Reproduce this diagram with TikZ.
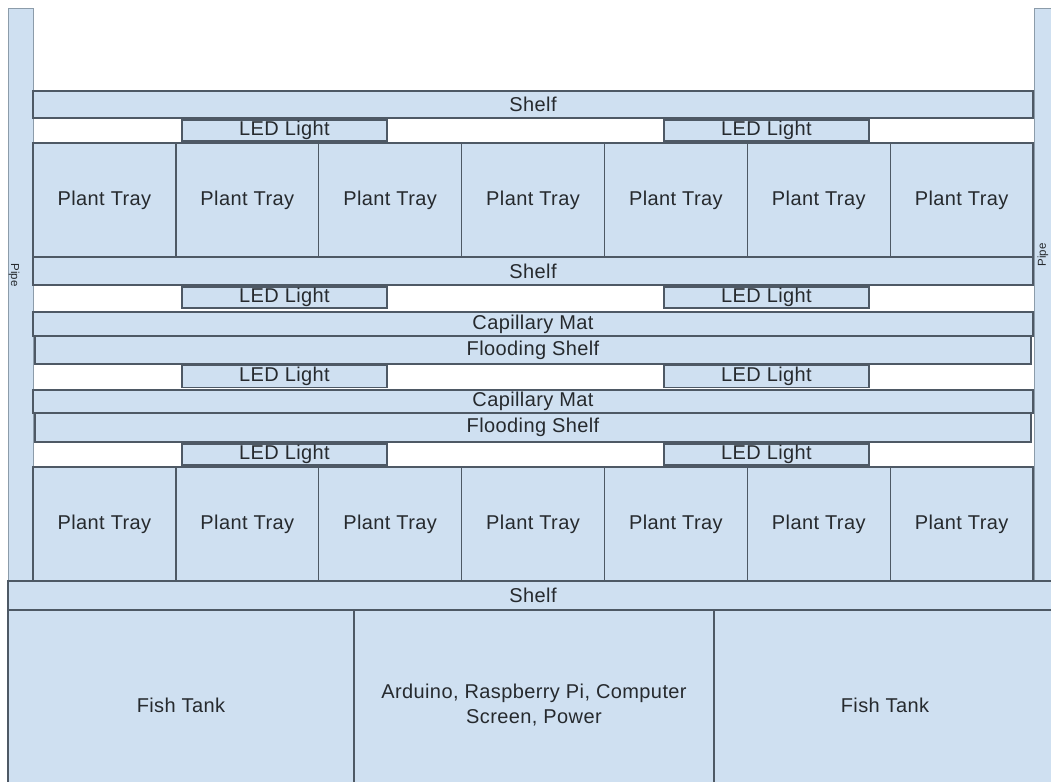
\documentclass[tikz,border=0pt]{standalone}
\usepackage{fontspec}
\setmainfont[LetterSpace=2]{Liberation Sans}
\definecolor{boxfill}{HTML}{CFE0F1}
\definecolor{boxline}{HTML}{4E5965}
\definecolor{pipeline}{HTML}{8C9CAA}
\definecolor{txt}{HTML}{262A2E}
\tikzset{
  part/.style={draw=boxline, line width=1.3pt, fill=boxfill, text=txt, inner sep=0pt,
    font=\fontsize{20}{24}\selectfont, align=center},
  pipebox/.style={draw=pipeline, line width=1pt, fill=boxfill, inner sep=0pt},
  pipelabel/.style={text=txt, font=\fontsize{11.5}{13}\selectfont, inner sep=0pt}
}
\begin{document}
\begin{tikzpicture}[x=1pt,y=-1pt]
\useasboundingbox (0,0) rectangle (1051,781);
\clip (0,0) rectangle (1051,781);
\fill[white] (0,0) rectangle (1051,781);
% pipes
\node[pipebox, minimum width=25, minimum height=572] (pipeL) at (20.5,295) {};
\node[pipebox, minimum width=26, minimum height=572] (pipeR) at (1047,295) {};
\node[pipelabel, rotate=-90] (pipeLt) at (14,275) {Pipe};
\node[pipelabel, rotate=90] (pipeRt) at (1043,255) {Pipe};
% top shelf
\node[part, minimum width=1000, minimum height=27] (shelf1) at (533,104.5) {Shelf};
\node[part, minimum width=205, minimum height=21] (led1a) at (284.5,130.5) {LED Light};
\node[part, minimum width=205, minimum height=21] (led1b) at (766.5,130.5) {LED Light};
% plant trays row 1
\foreach \i in {0,...,6}{
  \node[part, minimum width=142.86, minimum height=114] (trayA\i) at ({104.43+142.86*\i},200) {Plant Tray};
}
\node[part, minimum width=1000, minimum height=28] (shelf2) at (533,271) {Shelf};
\node[part, minimum width=205, minimum height=21] (led2a) at (284.5,297.5) {LED Light};
\node[part, minimum width=205, minimum height=21] (led2b) at (766.5,297.5) {LED Light};
\node[part, minimum width=1000, minimum height=24] (mat1) at (533,324) {Capillary Mat};
\node[part, minimum width=996, minimum height=28] (flood1) at (533,350) {Flooding Shelf};
\node[part, minimum width=205, minimum height=22] (led3a) at (284.5,376.5) {LED Light};
\node[part, minimum width=205, minimum height=22] (led3b) at (766.5,376.5) {LED Light};
\node[part, minimum width=1000, minimum height=23] (mat2) at (533,401.5) {Capillary Mat};
\node[part, minimum width=996, minimum height=29] (flood2) at (533,427.5) {Flooding Shelf};
\node[part, minimum width=205, minimum height=21] (led4a) at (284.5,454.5) {LED Light};
\node[part, minimum width=205, minimum height=21] (led4b) at (766.5,454.5) {LED Light};
% plant trays row 2
\foreach \i in {0,...,6}{
  \node[part, minimum width=142.86, minimum height=114] (trayB\i) at ({104.43+142.86*\i},524) {Plant Tray};
}
% bottom shelf and base
\node[part, minimum width=1050, minimum height=29] (shelf3) at (533,595.5) {Shelf};
\node[part, minimum width=346, minimum height=190] (tankL) at (181,705) {Fish Tank};
\node[part, minimum width=360, minimum height=190] (ctrl) at (534,705) {Arduino, Raspberry Pi, Computer\\[1pt]Screen, Power};
\node[part, minimum width=342, minimum height=190] (tankR) at (885,705) {Fish Tank};
\end{tikzpicture}
\end{document}
